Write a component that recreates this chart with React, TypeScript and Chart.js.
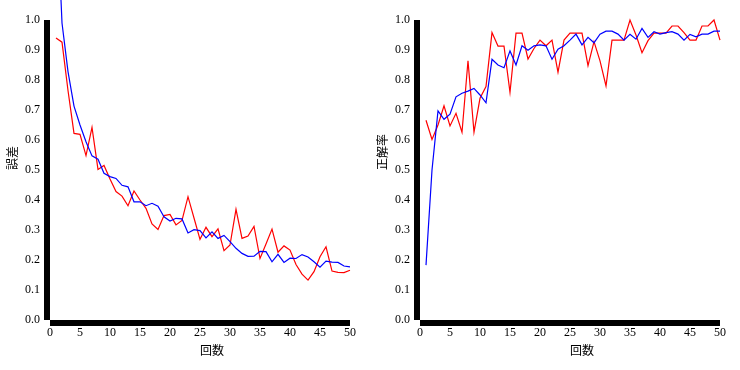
import React, { useEffect, useRef } from "react";
import { Chart, registerables } from "chart.js";

Chart.register(...registerables);

const epochs = [
  1, 2, 3, 4, 5, 6, 7, 8, 9, 10, 11, 12, 13, 14, 15, 16, 17, 18, 19, 20, 21, 22, 23, 24, 25,
  26, 27, 28, 29, 30, 31, 32, 33, 34, 35, 36, 37, 38, 39, 40, 41, 42, 43, 44, 45, 46, 47, 48, 49, 50,
];

// 誤差 (loss)
const lossBlue = [
  1.45, 0.99, 0.828, 0.713, 0.65, 0.594, 0.547, 0.536, 0.489, 0.478, 0.472, 0.449, 0.444, 0.394, 0.394,
  0.381, 0.389, 0.379, 0.344, 0.33, 0.339, 0.337, 0.29, 0.301, 0.298, 0.274, 0.294, 0.272, 0.282, 0.261,
  0.239, 0.222, 0.212, 0.213, 0.229, 0.228, 0.194, 0.219, 0.192, 0.206, 0.205, 0.218, 0.21, 0.194, 0.176,
  0.196, 0.193, 0.192, 0.18, 0.177,
];
const lossRed = [
  0.94, 0.926, 0.765, 0.622, 0.619, 0.548, 0.642, 0.502, 0.515, 0.47, 0.428, 0.413, 0.381, 0.43, 0.4,
  0.372, 0.32, 0.302, 0.348, 0.352, 0.317, 0.332, 0.411, 0.34, 0.269, 0.309, 0.278, 0.304, 0.231, 0.25,
  0.369, 0.272, 0.28, 0.312, 0.205, 0.253, 0.303, 0.226, 0.247, 0.233, 0.185, 0.153, 0.133, 0.161, 0.211,
  0.244, 0.163, 0.159, 0.158, 0.166,
];

// 正解率 (accuracy)
const accBlue = [
  0.183, 0.5, 0.697, 0.669, 0.686, 0.744, 0.756, 0.763, 0.772, 0.75, 0.724, 0.869, 0.85, 0.841, 0.897,
  0.85, 0.914, 0.899, 0.914, 0.917, 0.914, 0.869, 0.903, 0.914, 0.933, 0.953, 0.917, 0.942, 0.924, 0.953,
  0.963, 0.963, 0.953, 0.933, 0.952, 0.936, 0.972, 0.942, 0.961, 0.953, 0.958, 0.961, 0.953, 0.933, 0.952,
  0.944, 0.953, 0.953, 0.963, 0.963,
];
const accRed = [
  0.666, 0.602, 0.65, 0.714, 0.647, 0.689, 0.626, 0.864, 0.626, 0.739, 0.778, 0.958, 0.913, 0.913, 0.759,
  0.956, 0.956, 0.87, 0.905, 0.933, 0.914, 0.933, 0.826, 0.933, 0.956, 0.956, 0.956, 0.848, 0.928, 0.864,
  0.78, 0.933, 0.933, 0.933, 1.0, 0.95, 0.891, 0.931, 0.956, 0.956, 0.956, 0.98, 0.98, 0.958, 0.933,
  0.933, 0.98, 0.98, 1.0, 0.933,
];

const xMin = 0;
const xMax = 50;
const xStep = 5;
const yMin = 0;
const yMax = 1;
const yStep = 0.1;

const TICK_FONT = "'Liberation Serif', 'Times New Roman', serif";
const TITLE_FONT = "'Noto Sans CJK JP', 'Noto Sans', sans-serif";

const axisDecor = {
  id: "axisDecor",
  beforeDatasetsDraw(chart: any, _args: any, opts: any) {
    const { ctx, chartArea } = chart;
    const { left, right, top, bottom } = chartArea;
    ctx.save();
    ctx.fillStyle = "#000";
    ctx.fillRect(left - 6, top, 6, bottom - top);
    ctx.fillRect(left, bottom, right - left, 6);
    ctx.font = `12px ${TITLE_FONT}`;
    ctx.textBaseline = "middle";
    ctx.textAlign = "left";
    ctx.fillText(opts.xTitle, (left + right) / 2, bottom + 30);
    ctx.translate(12, (top + bottom) / 2);
    ctx.rotate(-Math.PI / 2);
    ctx.fillText(opts.yTitle, 0, 0);
    ctx.restore();
  },
};

function makeConfig(blue: number[], red: number[], yTitle: string): any {
  const toPts = (arr: number[]) => epochs.map((e, i) => ({ x: e, y: arr[i] }));
  return {
    type: "line",
    data: {
      datasets: [
        {
          data: toPts(blue),
          borderColor: "#0000ff",
          borderWidth: 1.2,
          pointRadius: 0,
          tension: 0,
          fill: false,
          clip: false,
        },
        {
          data: toPts(red),
          borderColor: "#ff0000",
          borderWidth: 1.2,
          pointRadius: 0,
          tension: 0,
          fill: false,
          clip: false,
        },
      ],
    },
    options: {
      responsive: false,
      animation: false,
      devicePixelRatio: 1,
      layout: { padding: { top: 20, right: 20, left: 0, bottom: 0 } },
      plugins: {
        legend: { display: false },
        tooltip: { enabled: false },
        axisDecor: { xTitle: "回数", yTitle },
      },
      scales: {
        x: {
          type: "linear",
          min: xMin,
          max: xMax,
          grid: { display: false, drawTicks: false },
          border: { display: false },
          ticks: {
            stepSize: xStep,
            padding: 6,
            color: "#000",
            font: { family: TICK_FONT, size: 12 },
            maxRotation: 0,
            autoSkip: false,
            callback: (v: number) => String(v),
          },
          afterFit: (s: any) => {
            s.height = 50;
            s.paddingLeft = 0;
            s.paddingRight = 0;
          },
        },
        y: {
          type: "linear",
          min: yMin,
          max: yMax,
          grid: { display: false, drawTicks: false },
          border: { display: false },
          ticks: {
            stepSize: yStep,
            padding: 10,
            color: "#000",
            font: { family: TICK_FONT, size: 12 },
            autoSkip: false,
            callback: (v: number) => Number(v).toFixed(1),
          },
          afterFit: (s: any) => {
            s.width = 50;
            s.paddingTop = 0;
            s.paddingBottom = 0;
          },
        },
      },
    },
    plugins: [axisDecor],
  };
}

function LineChart({ blue, red, yTitle }: { blue: number[]; red: number[]; yTitle: string }) {
  const ref = useRef<HTMLCanvasElement | null>(null);
  useEffect(() => {
    if (!ref.current) return;
    const chart = new Chart(ref.current, makeConfig(blue, red, yTitle));
    return () => chart.destroy();
  }, [blue, red, yTitle]);
  return <canvas ref={ref} width={370} height={370} style={{ display: "block", width: 370, height: 370 }} />;
}

export default function App() {
  return (
    <div
      style={{
        position: "fixed",
        left: 0,
        top: 0,
        width: 740,
        height: 370,
        display: "flex",
        background: "#fff",
      }}
    >
      <LineChart blue={lossBlue} red={lossRed} yTitle="誤差" />
      <LineChart blue={accBlue} red={accRed} yTitle="正解率" />
    </div>
  );
}
